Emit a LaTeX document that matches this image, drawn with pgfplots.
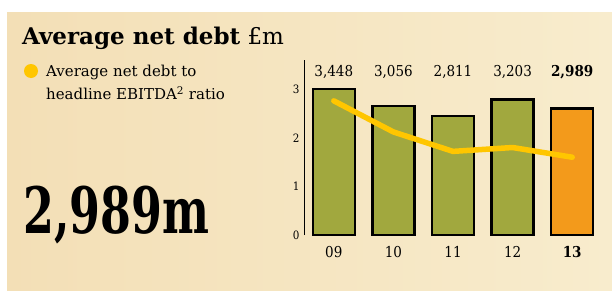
\documentclass[border=0pt]{standalone}
\usepackage{pgfplots}
\pgfplotsset{compat=1.18}
\usepackage{pgfplotstable}
\usepackage{fontspec}
\setmainfont{DejaVu Serif}
\newfontfamily\condfont{DejaVu Serif Condensed}
\definecolor{bg}{HTML}{F6E7C4}
\definecolor{bgl}{HTML}{F3DFB6}
\definecolor{bgr}{HTML}{F8ECCD}
\definecolor{olive}{HTML}{A1A83E}
\definecolor{orng}{HTML}{F39A1B}
\definecolor{yel}{HTML}{FFC600}
\pgfplotstableread{
x debt ratio
0 3448 2.76
1 3056 2.12
2 2811 1.72
3 3203 1.80
4 2989 1.60
}\data
\pgfplotstableread{
x debt
0 3448
1 3056
2 2811
3 3203
}\greenbars
\pgfplotstableread{
x debt
4 2989
}\orangebar
\begin{document}
\begin{tikzpicture}[x=1pt,y=1pt]
\useasboundingbox (0,0) rectangle (612,293);
\fill[white] (0,0) rectangle (612,293);
\shade[left color=bgl, right color=bgr] (7,3) rectangle (612,281);
\node[anchor=base west, inner sep=0, font=\fontsize{23}{27}\selectfont] at (22,248.7) {\textbf{Average net debt} £m};
\fill[yel] (31,222) circle (7);
\node[anchor=base west, inner sep=0, font=\fontsize{15}{18}\selectfont] at (46,217) {Average net debt to};
\node[anchor=base west, inner sep=0, font=\fontsize{15}{18}\selectfont] at (46,193.7) {headline EBITDA\textsuperscript{2} ratio};
\node[anchor=base west, inner sep=0, font=\condfont\bfseries\fontsize{64}{68}\selectfont] at (23,60) {\scalebox{0.77}[1]{2,989m}};
\begin{axis}[
  at={(304pt,58pt)}, anchor=south west,
  width=298pt, height=175pt, scale only axis,
  xmin=-0.5, xmax=4.5, ymin=0, ymax=3.6,
  axis lines*=left,
  x axis line style={draw=none},
  y axis line style={line width=1pt},
  ytick={0,1,2,3},
  xtick={0,1,2,3,4},
  xticklabels={09,10,11,12,\textbf{13}},
  major tick length=0pt,
  /pgf/number format/assume math mode=true,
  tick label style={font=\condfont\fontsize{15}{17}\selectfont},
  yticklabel style={font=\condfont\fontsize{11.5}{13}\selectfont, xshift=-1pt},
  xticklabel style={yshift=-8pt},
  clip=false,
]
\addplot[ybar, bar width=42pt, bar shift=0pt, fill=olive, draw=black, line width=2.5pt]
  table[x=x, y expr=\thisrow{debt}/1149.33] {\greenbars};
\addplot[ybar, bar width=42pt, bar shift=0pt, fill=orng, draw=black, line width=2.5pt]
  table[x=x, y expr=\thisrow{debt}/1149.33] {\orangebar};
\addplot[yel, line width=5.5pt, line cap=round, line join=round] table[x=x, y=ratio] {\data};
\foreach \i/\v in {0/{3,448},1/{3,056},2/{2,811},3/{3,203}} {
  \edef\tmp{\noexpand\node[font=\noexpand\condfont\noexpand\fontsize{15}{17}\noexpand\selectfont] at (axis cs:\i,3.35) {\v};}
  \tmp
}
\node[font=\condfont\bfseries\fontsize{15}{17}\selectfont] at (axis cs:4,3.35) {2,989};
\end{axis}
\end{tikzpicture}
\end{document}
